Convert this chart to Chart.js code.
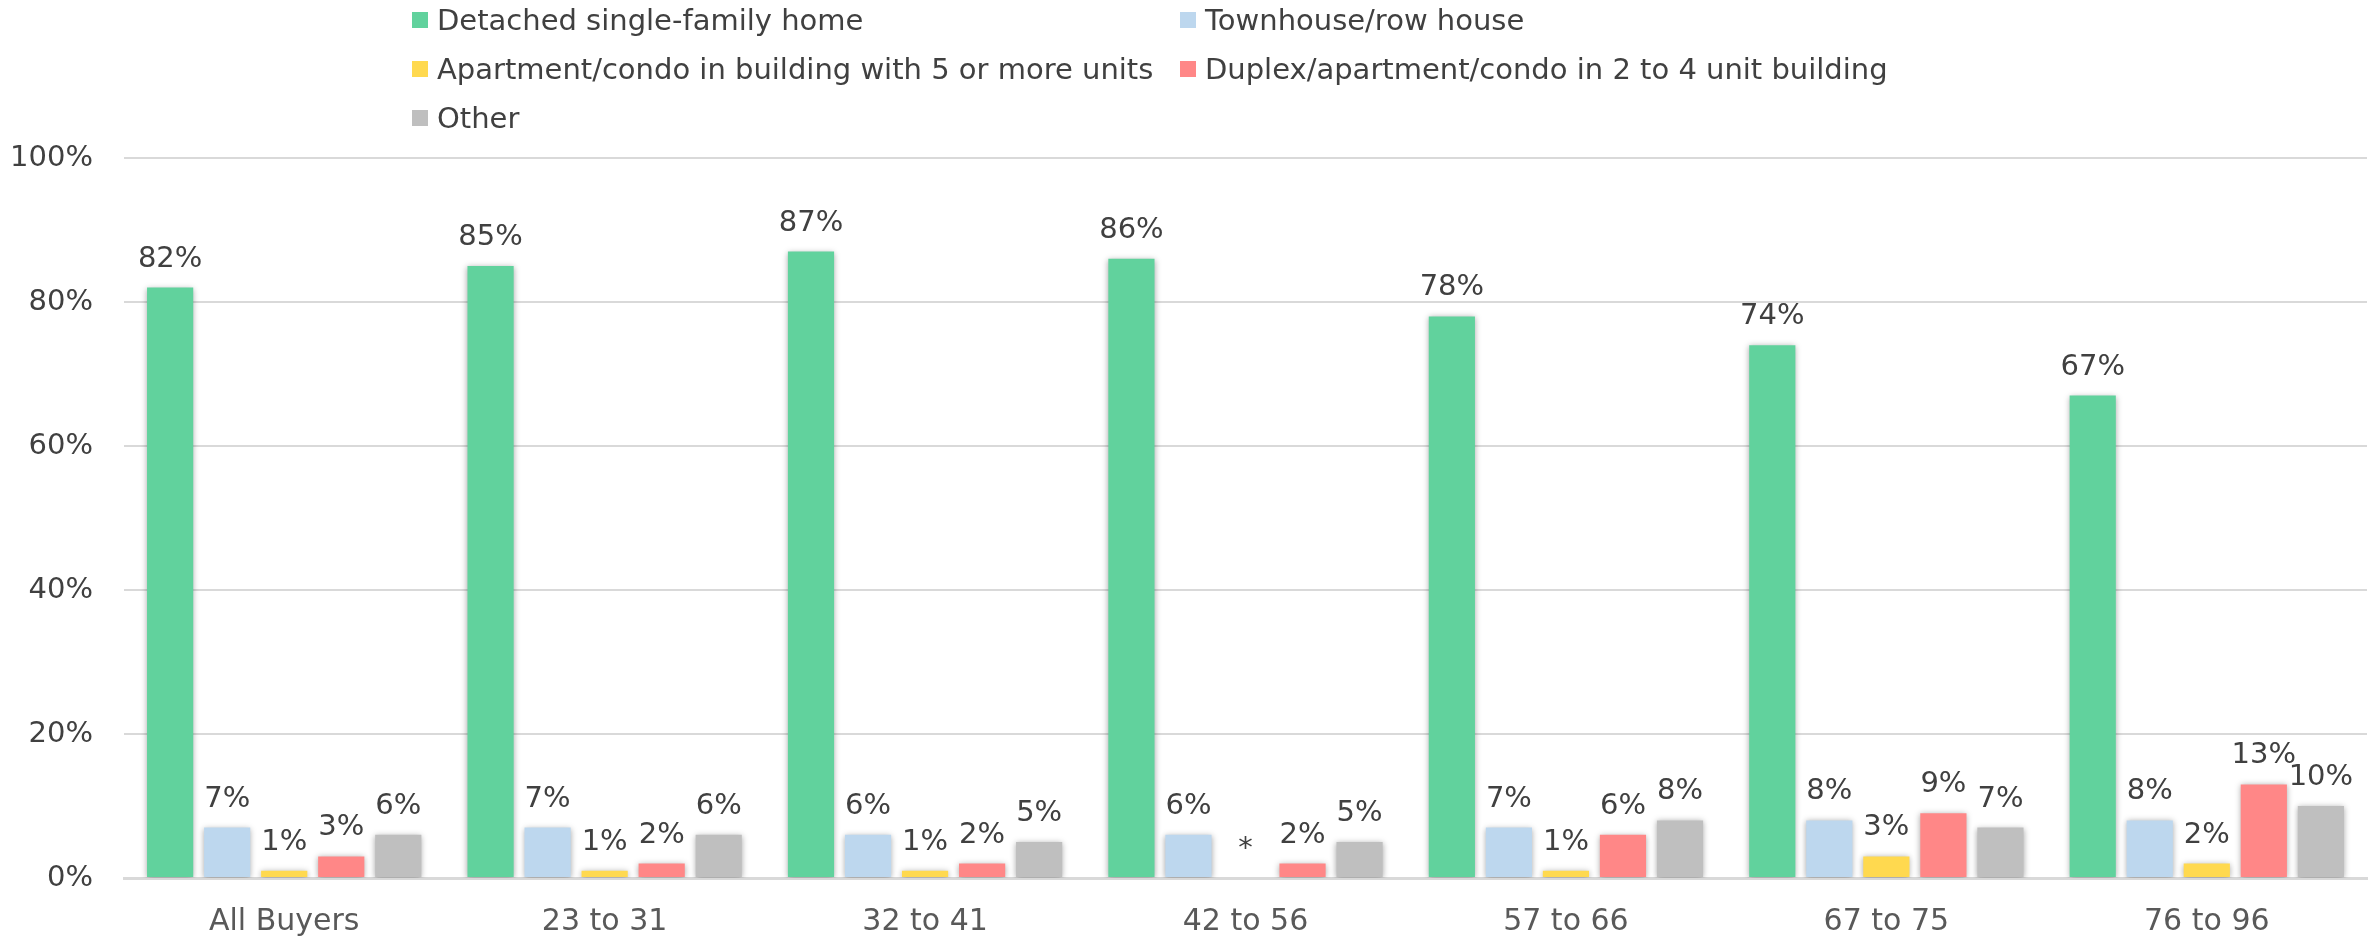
<!DOCTYPE html>
<html>
<head>
<meta charset="utf-8">
<script src="https://cdn.jsdelivr.net/npm/chart.js@4.4.1/dist/chart.umd.min.js"></script>
<style>
  html, body { margin: 0; padding: 0; background: #fff; }
  #wrap { position: relative; width: 2379px; height: 937px; }
  #legend {
    position: absolute; left: 412px; top: 0px;
    display: grid; grid-template-columns: 768px auto; grid-auto-rows: 49px;
    font-family: "DejaVu Sans", sans-serif; font-size: 29px; color: #404040;
  }
  #legend .item { display: flex; align-items: center; height: 40px; white-space: nowrap; }
  #legend .box { width: 16px; height: 16px; margin-right: 9px; flex: none; }
</style>
</head>
<body>
<div id="wrap">
  <canvas id="housingChart" width="2379" height="937"></canvas>
  <div id="legend"></div>
</div>
<script>
// categorias (grupos de edad)
var ageGroups = ['All Buyers', '23 to 31', '32 to 41', '42 to 56', '57 to 66', '67 to 75', '76 to 96'];

// valores por tipo de vivienda (null = menos de 1%, se muestra "*")
var detachedHome  = [82, 85, 87, 86, 78, 74, 67];
var townhouse     = [7, 7, 6, 6, 7, 8, 8];
var apartment5    = [1, 1, 1, null, 1, 3, 2];
var duplex2to4    = [3, 2, 2, 2, 6, 9, 13];
var otherHome     = [6, 6, 5, 5, 8, 7, 10];

var yTicks = [0, 20, 40, 60, 80, 100];

var seriesNames = [
    'Detached single-family home',
    'Townhouse/row house',
    'Apartment/condo in building with 5 or more units',
    'Duplex/apartment/condo in 2 to 4 unit building',
    'Other'
];
var seriesColors = ['#61D29D', '#BDD7EE', '#FFD94F', '#FF8787', '#BFBFBF'];
var seriesValues = [detachedHome, townhouse, apartment5, duplex2to4, otherHome];

var fontFamily = '"DejaVu Sans", sans-serif';

// sombra de las barras + etiquetas de valor
var barExtras = {
    id: 'barExtras',
    beforeDatasetsDraw: function (chart) {
        var ctx = chart.ctx;
        ctx.save();
        ctx.shadowColor = 'rgba(0, 0, 0, 0.35)';
        ctx.shadowBlur = 6;
        ctx.shadowOffsetX = 0;
        ctx.shadowOffsetY = 1;
    },
    afterDatasetsDraw: function (chart) {
        var ctx = chart.ctx;
        ctx.restore();
        ctx.save();
        ctx.font = '29px ' + fontFamily;
        ctx.fillStyle = '#404040';
        ctx.textAlign = 'center';
        ctx.textBaseline = 'alphabetic';
        var zeroY = chart.scales.y.getPixelForValue(0);
        chart.data.datasets.forEach(function (ds, i) {
            var meta = chart.getDatasetMeta(i);
            meta.data.forEach(function (bar, j) {
                var v = ds.data[j];
                if (v === null) {
                    ctx.fillText('*', bar.x, zeroY - 21);
                } else {
                    ctx.fillText(v + '%', bar.x, bar.y - 21);
                }
            });
        });
        ctx.restore();
    }
};

var ctx = document.getElementById('housingChart').getContext('2d');
var housingChart = new Chart(ctx, {
    type: 'bar',
    data: {
        labels: ageGroups,
        datasets: seriesNames.map(function (name, i) {
            return {
                label: name,
                data: seriesValues[i],
                backgroundColor: seriesColors[i],
                borderWidth: 0,
                categoryPercentage: 0.89,
                barPercentage: 0.81
            };
        })
    },
    options: {
        responsive: false,
        animation: false,
        layout: { padding: { top: 158, right: 12, left: 0, bottom: 0 } },
        plugins: {
            legend: { display: false },
            tooltip: { enabled: false }
        },
        scales: {
            x: {
                grid: { display: false },
                border: { display: true, color: '#D9D9D9', width: 3 },
                ticks: {
                    color: '#595959',
                    font: { family: fontFamily, size: 30 },
                    padding: 18,
                    maxRotation: 0
                },
                afterFit: function (scale) { scale.height = 59; }
            },
            y: {
                min: 0,
                max: 100,
                afterBuildTicks: function (scale) {
                    scale.ticks = yTicks.map(function (v) { return { value: v }; });
                },
                grid: { color: '#D9D9D9', lineWidth: 2, drawTicks: false },
                border: { display: false },
                ticks: {
                    color: '#404040',
                    font: { family: fontFamily, size: 29 },
                    padding: 31,
                    callback: function (v) { return v + '%'; }
                },
                afterFit: function (scale) { scale.width = 124; }
            }
        }
    },
    plugins: [barExtras]
});

// leyenda en dos columnas, hecha a partir de los datasets
var legendDiv = document.getElementById('legend');
housingChart.data.datasets.forEach(function (ds) {
    var item = document.createElement('div');
    item.className = 'item';
    var box = document.createElement('span');
    box.className = 'box';
    box.style.background = ds.backgroundColor;
    item.appendChild(box);
    item.appendChild(document.createTextNode(ds.label));
    legendDiv.appendChild(item);
});
</script>
</body>
</html>
